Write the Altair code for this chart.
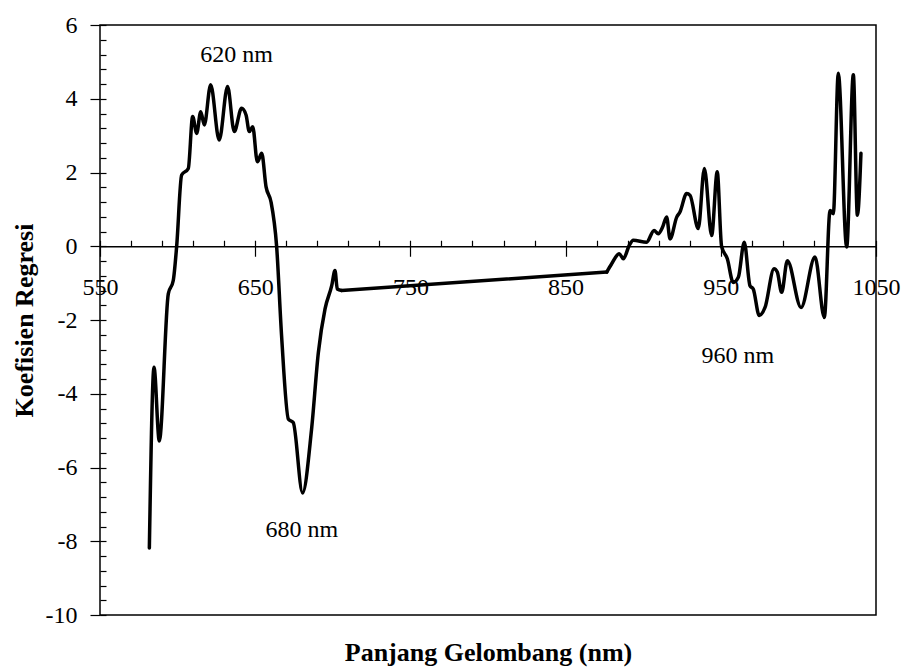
import altair as alt
import pandas as pd

# ---- data ----
wavelength = [581.8, 584.8, 588.2, 594.0, 597.2, 599.4, 602.6, 606.9, 609.7, 612.3,
              614.9, 617.2, 621.3, 626.8, 632.2, 636.5, 641.2, 644.1, 646.2, 648.4,
              651.4, 654.2, 657.0, 660.2, 663.8, 667.0, 671.4, 674.5, 680.5, 686.3,
              690.7, 695.0, 699.3, 701.4, 702.9, 705.7, 876.5, 879.6, 884.6, 887.2,
              891.0, 893.6, 902.2, 907.0, 909.7, 912.5, 915.1, 917.3, 921.6, 923.7,
              928.0, 930.2, 935.5, 939.4, 944.1, 947.7, 950.5, 954.2, 958.0, 961.3,
              965.1, 968.8, 970.9, 974.8, 978.5, 984.3, 986.4, 989.2, 992.9, 1001.7,
              1010.7, 1016.7, 1020.4, 1022.5, 1025.7, 1031.1, 1035.4, 1038.0, 1040.3]
coef = [-8.18, -3.28, -5.28, -1.29, -0.93, 0.0, 1.93, 2.11, 3.52, 3.06,
        3.65, 3.29, 4.38, 2.88, 4.33, 3.11, 3.74, 3.56, 3.11, 3.24,
        2.29, 2.52, 1.61, 1.20, 0.0, -2.43, -4.69, -4.78, -6.69, -4.97,
        -2.88, -1.70, -1.07, -0.66, -1.16, -1.20, -0.70, -0.48, -0.20, -0.34,
        0.02, 0.16, 0.11, 0.43, 0.34, 0.52, 0.79, 0.20, 0.79, 0.93,
        1.43, 1.38, 0.48, 2.11, 0.29, 2.02, 0.0, -0.34, -0.98, -0.84,
        0.11, -1.07, -1.16, -1.88, -1.66, -0.61, -0.70, -1.25, -0.39, -1.66,
        -0.29, -1.93, 0.97, 0.88, 4.69, -0.02, 4.65, 0.84, 2.52]

# the measured spectrum has a gap between these two wavelengths (drawn straight)
gap_start, gap_end = 705.7, 876.5

ann_text = ["620 nm", "680 nm", "960 nm"]
ann_x = [638, 680, 961]
ann_y = [5.18, -7.69, -2.98]

x_major = [550, 650, 750, 850, 950, 1050]
x_minor = list(range(550, 1051, 20))
y_major = [-10, -8, -6, -4, -2, 0, 2, 4, 6]
y_minor = [round(-10 + 0.4 * i, 1) for i in range(41)]

x_title = "Panjang Gelombang (nm)"
y_title = "Koefisien Regresi"

# ---- layout ----
W, H = 776, 590
X_DOM = [550, 1050]
Y_DOM = [-10, 6]
zero_px = H * (Y_DOM[1] - 0) / (Y_DOM[1] - Y_DOM[0])
FONT = "Liberation Serif"

df = pd.DataFrame({"wl": wavelength, "coef": coef})
df["seg"] = ["a" if w <= gap_start else "b" for w in wavelength]
bridge = df[(df["wl"] == gap_start) | (df["wl"] == gap_end)]
ann = pd.DataFrame({"t": ann_text, "x": ann_x, "y": ann_y})

xs = alt.Scale(domain=X_DOM, nice=False, zero=False)
ys = alt.Scale(domain=Y_DOM, nice=False, zero=False)

base = alt.Chart(df)

line = base.mark_line(color="black", strokeWidth=3.5, interpolate="monotone",
                      strokeJoin="round", strokeCap="round").encode(
    x=alt.X("wl:Q", scale=xs, axis=alt.Axis(
        orient="bottom", offset=-(H - zero_px), values=x_major,
        labelExpr="'' + datum.value",
        tickSize=10, tickColor="black", tickWidth=1.2,
        domainColor="black", domainWidth=1.5,
        labelFont=FONT, labelFontSize=24, labelColor="black", labelPadding=19,
        labelOverlap=False, labelBound=False, labelFlush=False,
        grid=False, title=None)),
    y=alt.Y("coef:Q", scale=ys, axis=alt.Axis(
        orient="left", values=y_major, labelExpr="'' + datum.value",
        tickSize=10, tickColor="black", tickWidth=1.2, domain=False,
        labelFont=FONT, labelFontSize=24, labelColor="black", labelPadding=13,
        labelOverlap=False, labelBound=False, labelFlush=False,
        grid=False, title=y_title, titleFont=FONT, titleFontSize=26,
        titleFontWeight="bold", titleColor="black", titlePadding=8)),
    detail="seg:N",
)

bridge_line = alt.Chart(bridge).mark_line(color="black", strokeWidth=3.5,
                                          strokeCap="round").encode(
    x=alt.X("wl:Q", scale=xs, axis=None),
    y=alt.Y("coef:Q", scale=ys, axis=None),
)

minor_x = base.mark_line(opacity=0).encode(
    x=alt.X("wl:Q", scale=xs, axis=alt.Axis(
        orient="top", offset=-zero_px, values=x_minor, tickSize=6,
        tickColor="black", tickWidth=1.2, domain=False, labels=False,
        grid=False, title=None)),
    y=alt.Y("coef:Q", scale=ys, axis=None),
)

minor_y = base.mark_line(opacity=0).encode(
    x=alt.X("wl:Q", scale=xs, axis=None),
    y=alt.Y("coef:Q", scale=ys, axis=alt.Axis(
        orient="right", offset=-W, values=y_minor, tickSize=6,
        tickColor="black", tickWidth=1.2, domain=False, labels=False,
        grid=False, title=None)),
)

title_x = base.mark_line(opacity=0).encode(
    x=alt.X("wl:Q", scale=xs, axis=alt.Axis(
        orient="bottom", offset=0, ticks=False, labels=False, domain=False,
        grid=False, title=x_title, titleFont=FONT, titleFontSize=26,
        titleFontWeight="bold", titleColor="black", titlePadding=24)),
    y=alt.Y("coef:Q", scale=ys, axis=None),
)

labels = alt.Chart(ann).mark_text(font=FONT, fontSize=24, color="black").encode(
    x=alt.X("x:Q", scale=xs, axis=None),
    y=alt.Y("y:Q", scale=ys, axis=None),
    text="t:N",
)

chart = alt.layer(line, bridge_line, minor_x, minor_y, title_x, labels).resolve_axis(
    x="independent", y="independent"
).properties(
    width=W, height=H, autosize="none",
    padding={"left": 100, "top": 25, "right": 30, "bottom": 53},
    background="white",
).configure_view(stroke="black", strokeWidth=1.5)

chart.save("out.html", embed_options={"renderer": "svg", "actions": False})
